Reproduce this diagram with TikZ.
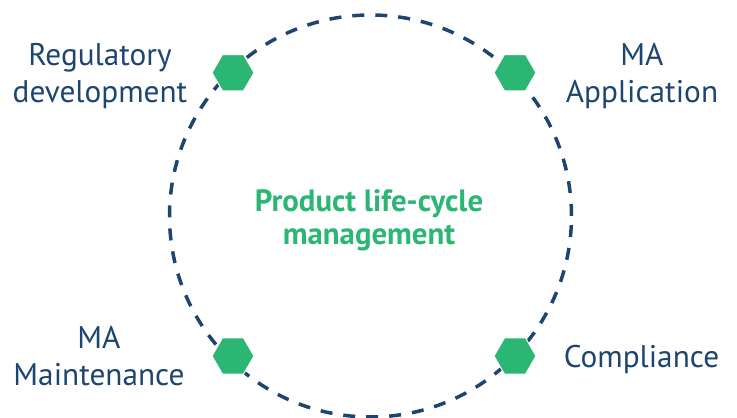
\documentclass[tikz,border=0pt]{standalone}
\usepackage{fontspec}
\setmainfont{PT Sans}
\usetikzlibrary{positioning, shapes.geometric}
\definecolor{navy}{HTML}{1D4570}
\definecolor{leaf}{HTML}{2BB673}
\tikzstyle{ring} = [draw=navy, line width=3.5pt, dash pattern=on 12pt off 11pt]
\tikzstyle{hexagon} = [regular polygon, regular polygon sides=6, minimum size=42pt, inner sep=0pt, fill=leaf, draw=white, line width=1pt]
\tikzstyle{label} = [align=center, text=navy, font=\fontsize{31.3pt}{37pt}\selectfont, anchor=base, inner sep=0pt]
\tikzstyle{title} = [align=center, text=leaf, font=\fontsize{30.8pt}{33.3pt}\selectfont\bfseries, anchor=base, inner sep=0pt]

\begin{document}
\begin{tikzpicture}[x=1pt, y=1pt]
\useasboundingbox (0,0) rectangle (737,418);

%Nodes
\coordinate (centre) at (370.5,202);
\node (plcm) [title] at (369,173) {Product life-cycle\\management};
\node (regtext) [label] at (100,315) {Regulatory\\development};
\node (apptext) [label] at (642,315) {MA\\Application};
\node (mnttext) [label] at (99,32.3) {MA\\Maintenance};
\node (comtext) [label] at (641.5,50.3) {Compliance};

%Ring
\draw [ring] (centre) circle (201);

\node (reg) [hexagon] at (233,345.3) {};
\node (app) [hexagon] at (515,345.3) {};
\node (mnt) [hexagon] at (233,62) {};
\node (com) [hexagon] at (515,62) {};

\end{tikzpicture}
\end{document}
